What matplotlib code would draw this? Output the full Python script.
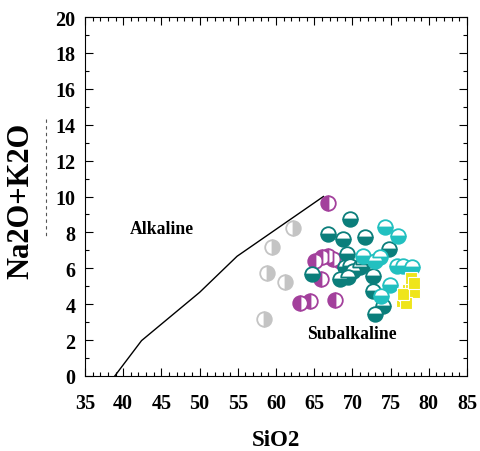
import matplotlib
matplotlib.use("Agg")
import matplotlib.pyplot as plt
from matplotlib.lines import Line2D
from matplotlib.ticker import MultipleLocator

plt.rcParams['font.family'] = ['Liberation Serif', 'DejaVu Serif']
plt.rcParams['font.weight'] = 'bold'

# Irvine & Baragar alkaline / subalkaline divide
line_x = [38.9, 42.4, 50.0, 54.9, 66.2]
line_y = [0.0, 1.97, 4.66, 6.67, 10.0]

# sample groups (SiO2, Na2O+K2O)
grey_x = [62.2, 59.5, 58.8, 61.2, 58.4]
grey_y = [8.25, 7.19, 5.74, 5.24, 3.18]

magenta_x = [66.85, 65.1, 66.0, 66.85, 67.5, 68.4, 65.85, 63.1, 64.45, 67.7]
magenta_y = [9.64, 6.42, 6.61, 6.70, 6.52, 6.42, 5.40, 4.07, 4.19, 4.25]

teal_x = [69.7, 66.85, 68.8, 71.65, 74.8, 69.25, 69.0, 69.7, 70.1, 71.0,
          71.4, 68.4, 69.45, 72.7, 72.7, 74.05, 72.95, 64.7]
teal_y = [8.75, 7.91, 7.63, 7.73, 7.07, 6.8, 6.06, 6.15, 5.87, 6.06,
          6.24, 5.40, 5.50, 5.59, 4.75, 3.92, 3.45, 5.68]

cyan_x = [74.25, 76.0, 71.4, 72.95, 73.6, 75.8, 76.65, 77.75, 74.9, 73.8]
cyan_y = [8.28, 7.82, 6.66, 6.42, 6.61, 6.15, 6.11, 6.05, 5.07, 4.47]

yellow_x = [76.5, 76.9, 77.3, 77.6, 77.7, 78.0, 77.0, 76.6, 78.1]
yellow_y = [4.2, 4.5, 4.8, 5.1, 5.45, 4.7, 4.05, 4.55, 5.2]

fig = plt.figure(figsize=(4.81, 4.52), dpi=100)
ax = fig.add_axes([0.1767, 0.166, 0.7943, 0.794])

ax.plot(line_x, line_y, color='black', lw=1.0, zorder=1)

ms = 10.5
ax.plot(grey_x, grey_y, ls='none', marker='o', ms=ms, fillstyle='right',
        color='#c4c4c4', markerfacecoloralt='white', mec='#c4c4c4', mew=1.3)
ax.plot(magenta_x, magenta_y, ls='none', marker='o', ms=ms, fillstyle='left',
        color='#a3409c', markerfacecoloralt='white', mec='#a3409c', mew=1.3)
ax.plot(teal_x, teal_y, ls='none', marker='o', ms=ms, fillstyle='bottom',
        color='#0b7e7b', markerfacecoloralt='white', mec='#0b7e7b', mew=1.3)
ax.plot(cyan_x, cyan_y, ls='none', marker='o', ms=ms, fillstyle='bottom',
        color='#22c0c0', markerfacecoloralt='white', mec='#22c0c0', mew=1.3)
ax.plot(yellow_x, yellow_y, ls='none', marker='s', ms=8,
        mfc='#efe51b', mec='white', mew=0.8)

ax.text(40.9, 8.2, 'Alkaline', fontsize=12.7, fontweight='bold', va='center')
ax.text(64.1, 2.34, 'Subalkaline', fontsize=12.7, fontweight='bold', va='center')

ax.set_xlim(35, 85)
ax.set_ylim(0, 20)
ax.xaxis.set_major_locator(MultipleLocator(5))
ax.xaxis.set_minor_locator(MultipleLocator(1))
ax.yaxis.set_major_locator(MultipleLocator(2))
ax.yaxis.set_minor_locator(MultipleLocator(1))
ax.tick_params(which='both', direction='in', top=True, right=True,
               labelsize=14.5, width=0.8)
ax.tick_params(which='major', length=6)
ax.tick_params(which='minor', length=3)
ax.tick_params(axis='x', which='both', pad=12)
ax.tick_params(axis='y', which='both', pad=7)
for lab in ax.get_xticklabels() + ax.get_yticklabels():
    lab.set_fontweight('bold')
for s in ax.spines.values():
    s.set_linewidth(0.8)

ax.set_xlabel('SiO2', fontsize=16.5, fontweight='bold', va='top')
ax.xaxis.set_label_coords(0.5, -0.148)
ax.set_ylabel('Na2O+K2O', fontsize=22, fontweight='bold')
ax.yaxis.set_label_coords(-0.13, 0.49)

# faint dashed stroke left of the tick labels, as in the source image
fig.add_artist(Line2D([46 / 481, 46 / 481], [1 - 120 / 452, 1 - 240 / 452],
                      transform=fig.transFigure, color='#555555', lw=0.8,
                      ls=(0, (3, 3))))

fig.savefig('out.png', dpi=100)
